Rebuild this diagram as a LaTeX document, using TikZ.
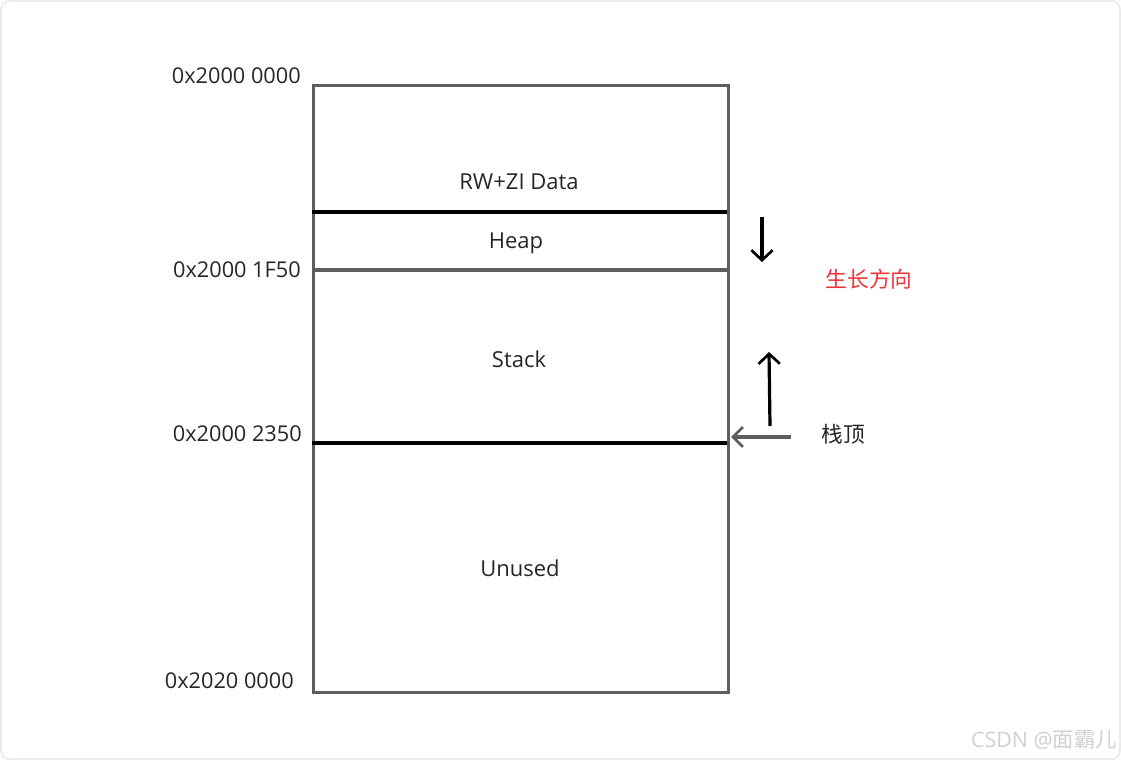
\documentclass[tikz,border=0pt]{standalone}
\usepackage{fontspec}
\setmainfont{Open Sans}
\newfontfamily\cjk{Noto Sans CJK SC}
\usetikzlibrary{arrows.meta}
\definecolor{boxgrey}{HTML}{5E5E5E}
\definecolor{redtxt}{HTML}{F0333A}
\definecolor{wm}{HTML}{D0D0D0}
\begin{document}
\begin{tikzpicture}[x=0.75pt,y=-0.75pt,
  lbl/.style={font=\fontsize{16.5}{18}\selectfont, text=black!85, inner sep=0pt},
  addr/.style={lbl, font=\fontsize{16.3}{18}\selectfont, anchor=east},
  frame/.style={draw=boxgrey, line width=2.4pt},
  blk/.style={draw=black, line width=2.6pt},
  chev/.style={-{Straight Barb[length=7.5pt,width=16pt,line width=2pt]}, line width=2.4pt, black}]
\useasboundingbox (0,0) rectangle (1121,760);
\draw[draw=black!12, line width=0.8pt, rounded corners=6pt] (1,1) rectangle (1120,759);
% memory box
\node[frame, minimum width=415*0.75pt, minimum height=607*0.75pt, anchor=north west, inner sep=0pt] (mem) at (312,84) {};
\coordinate (l1) at (312,212); \coordinate (r1) at (727,212);
\coordinate (l2) at (315,270); \coordinate (r2) at (727,270);
\coordinate (l3) at (312,443); \coordinate (r3) at (727,443);
\draw[blk] (l1) -- (r1);
\draw[frame] (l2) -- (r2);
\draw[blk] (l3) -- (r3);
\node[lbl] (rw) at (519,182) {RW+ZI Data};
\node[lbl] (heap) at (516,243) {Heap};
\node[lbl] (stack) at (519,359) {Stack};
\node[lbl] (unused) at (520,568) {Unused};
\node[addr] (a0) at (301,76) {0x2000 0000};
\node[addr] (a1) at (301,270) {0x2000 1F50};
\node[addr] (a2) at (302,434) {0x2000 2350};
\node[addr] (a3) at (294,681) {0x2020 0000};
% growth arrows
\coordinate (d1) at (762,217); \coordinate (d2) at (762,262);
\draw[chev] (d1) -- (d2);
\coordinate (u1) at (770,426); \coordinate (u2) at (769,352);
\draw[chev] (u1) -- (u2);
\node[font=\cjk\fontsize{16.3}{18}\selectfont, text=redtxt, inner sep=0pt] (grow) at (869,279) {生长方向};
\node[font=\cjk\fontsize{16.3}{18}\selectfont, text=black!85, inner sep=0pt] (top) at (843,434) {栈顶};
\coordinate (t1) at (791,437); \coordinate (t0) at (731,437);
\draw[-{Straight Barb[length=7.5pt,width=15pt,line width=2pt]}, line width=2.6pt, boxgrey] (t1) -- (t0);
\node[font=\fontsize{16}{18}\selectfont, text=wm, inner sep=0pt, anchor=east] (wmk) at (1117,740) {CSDN @{\cjk 面霸儿}};
\end{tikzpicture}
\end{document}
